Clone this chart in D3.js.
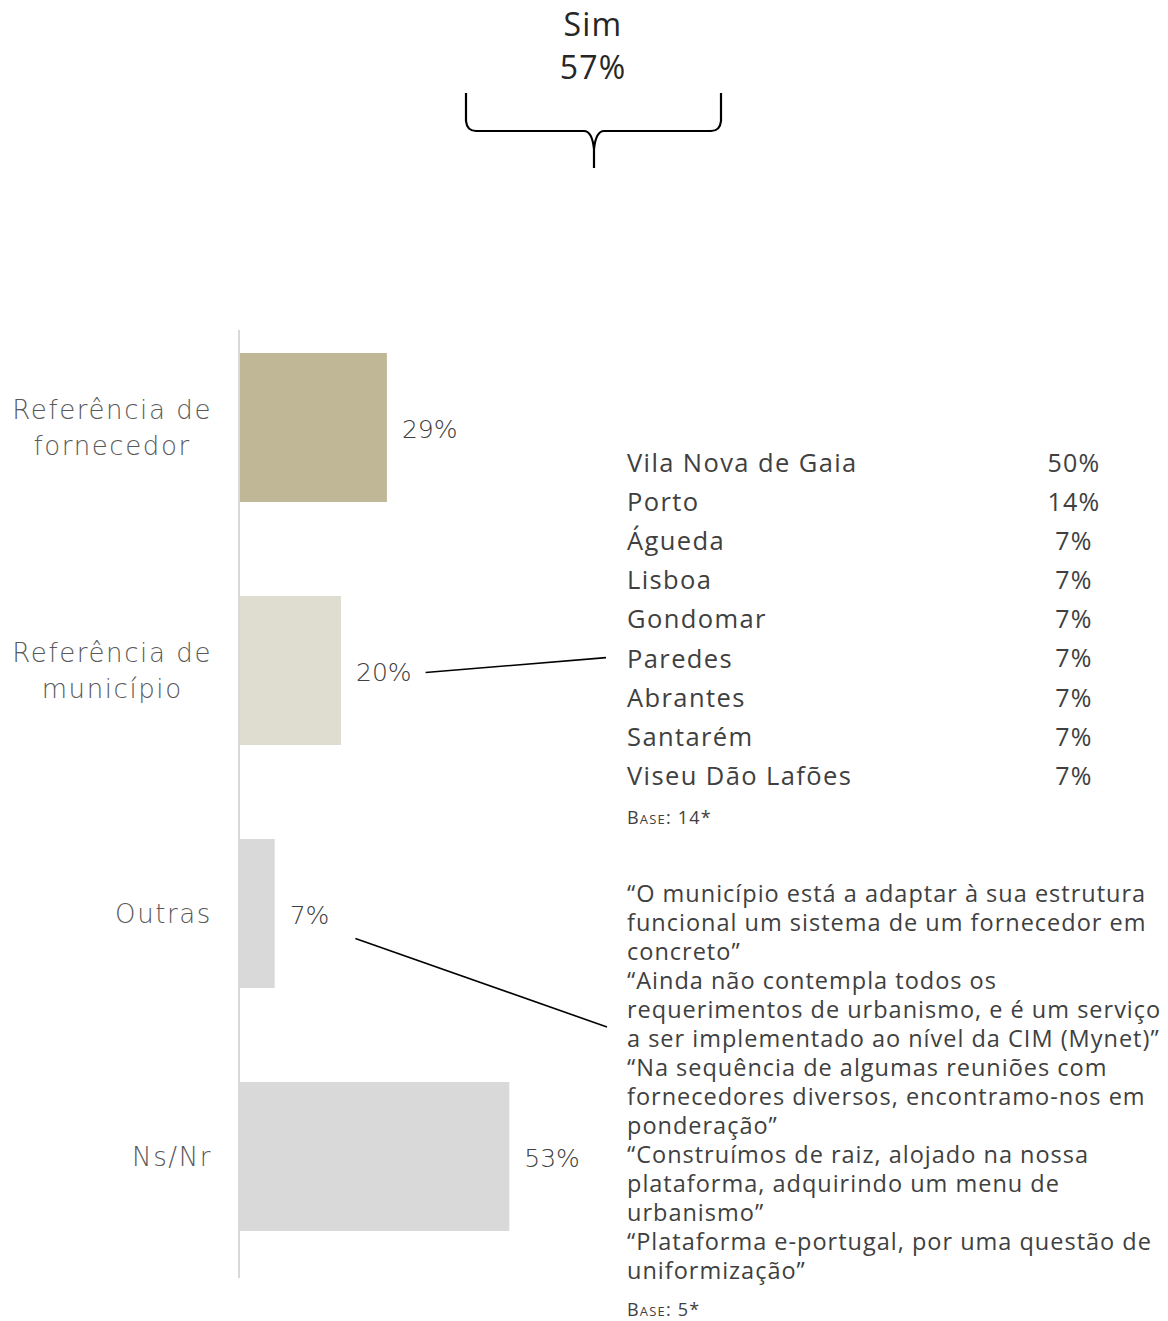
<!DOCTYPE html>
<html><head><meta charset="utf-8">
<script src="https://cdn.jsdelivr.net/npm/d3@7"></script>
<style>
html,body{margin:0;padding:0;background:#fff;}
svg{display:block;}
</style></head>
<body>
<svg id="chart" width="1168" height="1321"></svg>
<script>
// ---------- DATA ----------
const headline = ["Sim", "57%"];
const categories = ["Referência de fornecedor", "Referência de município", "Outras", "Ns/Nr"];
const categoryLines = [["Referência de", "fornecedor"], ["Referência de", "município"], ["Outras"], ["Ns/Nr"]];
const values = [29, 20, 7, 53];
const municipalities = ["Vila Nova de Gaia", "Porto", "Águeda", "Lisboa", "Gondomar", "Paredes", "Abrantes", "Santarém", "Viseu Dão Lafões"];
const municipalityShares = [50, 14, 7, 7, 7, 7, 7, 7, 7];
const municipalityBase = "Base: 14*";
const quoteLines = [
  "“O município está a adaptar à sua estrutura",
  "funcional um sistema de um fornecedor em",
  "concreto”",
  "“Ainda não contempla todos os",
  "requerimentos de urbanismo, e é um serviço",
  "a ser implementado ao nível da CIM (Mynet)”",
  "“Na sequência de algumas reuniões com",
  "fornecedores diversos, encontramo-nos em",
  "ponderação”",
  "“Construímos de raiz, alojado na nossa",
  "plataforma, adquirindo um menu de",
  "urbanismo”",
  "“Plataforma e-portugal, por uma questão de",
  "uniformização”"
];
const quoteBase = "Base: 5*";

// ---------- STYLE ----------
const barColors = ["#c0b796", "#dfddcf", "#d9d9d9", "#d9d9d9"];
const labelFont = "'DejaVu Sans', sans-serif";
const bodyFont = "'Open Sans', 'Noto Sans', sans-serif";

const svg = d3.select("#chart");

// ---------- SCALES ----------
const x = d3.scaleLinear().domain([0, 100]).range([239, 749]);
const y = d3.scaleBand().domain(categories).range([306, 1278]).paddingInner(0.387).paddingOuter(0.1935);

// axis line
svg.append("line")
  .attr("x1", x(0)).attr("x2", x(0))
  .attr("y1", 330).attr("y2", 1278)
  .attr("stroke", "#d9d9d9").attr("stroke-width", 2);

// bars
svg.selectAll("rect.bar").data(categories).join("rect")
  .attr("class", "bar")
  .attr("x", x(0) + 1)
  .attr("y", d => y(d))
  .attr("width", (d, i) => x(values[i]) - x(0) - 1)
  .attr("height", y.bandwidth())
  .attr("fill", (d, i) => barColors[i]);

// category labels (lines centred within right-aligned block)
const catG = svg.append("g");
categories.forEach((c, i) => {
  const lines = categoryLines[i];
  const cy = y(c) + y.bandwidth() / 2;
  const g = catG.append("g");
  const texts = lines.map((ln, j) => g.append("text")
    .attr("y", cy + (j - (lines.length - 1) / 2) * 36)
    .attr("dy", "0.35em")
    .attr("font-family", labelFont)
    .attr("font-size", 26)
    .attr("font-weight", 300)
    .attr("letter-spacing", 1.6)
    .attr("fill", "#595959")
    .attr("text-anchor", "middle")
    .text(ln));
  const w = d3.max(texts, t => t.node().getComputedTextLength());
  texts.forEach(t => t.attr("x", 212 - w / 2));
});

// value labels
const valLabels = svg.selectAll("text.val").data(categories).join("text")
  .attr("class", "val")
  .attr("x", (d, i) => x(values[i]) + 15)
  .attr("y", d => y(d) + y.bandwidth() / 2 + 2)
  .attr("dy", "0.35em")
  .attr("font-family", labelFont)
  .attr("font-size", 25)
  .attr("font-weight", 300)
  .attr("fill", "#404040")
  .text((d, i) => values[i] + "%");

// headline + brace
svg.selectAll("text.head").data(headline).join("text")
  .attr("class", "head")
  .attr("x", 593)
  .attr("y", (d, i) => 25 + i * 43)
  .attr("dy", "0.35em")
  .attr("text-anchor", "middle")
  .attr("font-family", bodyFont)
  .attr("font-size", 32)
  .attr("letter-spacing", 1.2)
  .attr("fill", "#262626")
  .text(d => d);

const bx0 = 466, bx1 = 721, bm = 594, btop = 93, bh = 131, bend = 168;
const brace = d3.path();
brace.moveTo(bx0, btop);
brace.lineTo(bx0, bh - 10);
brace.quadraticCurveTo(bx0 + 1, bh, bx0 + 10, bh);
brace.lineTo(bm - 10, bh);
brace.quadraticCurveTo(bm - 2, bh, bm, bh + 18);
brace.lineTo(bm, bend);
brace.moveTo(bm, bh + 18);
brace.quadraticCurveTo(bm + 2, bh, bm + 10, bh);
brace.lineTo(bx1 - 10, bh);
brace.quadraticCurveTo(bx1 - 1, bh, bx1, bh - 10);
brace.lineTo(bx1, btop);
svg.append("path").attr("d", brace.toString())
  .attr("fill", "none").attr("stroke", "#000").attr("stroke-width", 2.2);

// municipality table
const ry = d3.scalePoint().domain(municipalities).range([463, 776]);
svg.selectAll("text.mun").data(municipalities).join("text")
  .attr("class", "mun")
  .attr("x", 627).attr("y", d => ry(d)).attr("dy", "0.35em")
  .attr("font-family", bodyFont).attr("font-size", 25.5)
  .attr("letter-spacing", 1.4)
  .attr("fill", "#404040")
  .text(d => d);
svg.selectAll("text.share").data(municipalities).join("text")
  .attr("class", "share")
  .attr("x", 1074).attr("y", d => ry(d)).attr("dy", "0.35em")
  .attr("text-anchor", "middle")
  .attr("font-family", bodyFont).attr("font-size", 25)
  .attr("letter-spacing", 1.2)
  .attr("fill", "#404040")
  .text((d, i) => municipalityShares[i] + "%");
svg.append("text")
  .attr("x", 627).attr("y", 818).attr("dy", "0.35em")
  .attr("font-family", bodyFont).attr("font-size", 18)
  .attr("letter-spacing", 1.2)
  .attr("font-variant", "small-caps")
  .attr("fill", "#404040")
  .text(municipalityBase);

// quotes
const qy = d3.scalePoint().domain(d3.range(quoteLines.length)).range([894, 1271]);
svg.selectAll("text.quote").data(quoteLines).join("text")
  .attr("class", "quote")
  .attr("x", 627).attr("y", (d, i) => qy(i)).attr("dy", "0.35em")
  .attr("font-family", bodyFont).attr("font-size", 23.5)
  .attr("letter-spacing", 1.0)
  .attr("fill", "#404040")
  .text(d => d);
svg.append("text")
  .attr("x", 627).attr("y", 1310).attr("dy", "0.35em")
  .attr("font-family", bodyFont).attr("font-size", 18)
  .attr("letter-spacing", 1.2)
  .attr("font-variant", "small-caps")
  .attr("fill", "#404040")
  .text(quoteBase);

// leader lines
const vNodes = valLabels.nodes();
const b2 = vNodes[1].getBBox();
svg.append("line")
  .attr("x1", b2.x + b2.width + 14).attr("y1", y(categories[1]) + y.bandwidth() / 2 + 2)
  .attr("x2", 606).attr("y2", ry("Paredes") - 1)
  .attr("stroke", "#000").attr("stroke-width", 1.6);
const b3 = vNodes[2].getBBox();
svg.append("line")
  .attr("x1", b3.x + b3.width + 26).attr("y1", y(categories[2]) + y.bandwidth() / 2 + 25)
  .attr("x2", 607).attr("y2", qy(4) + 17)
  .attr("stroke", "#000").attr("stroke-width", 1.6);
</script>
</body></html>
